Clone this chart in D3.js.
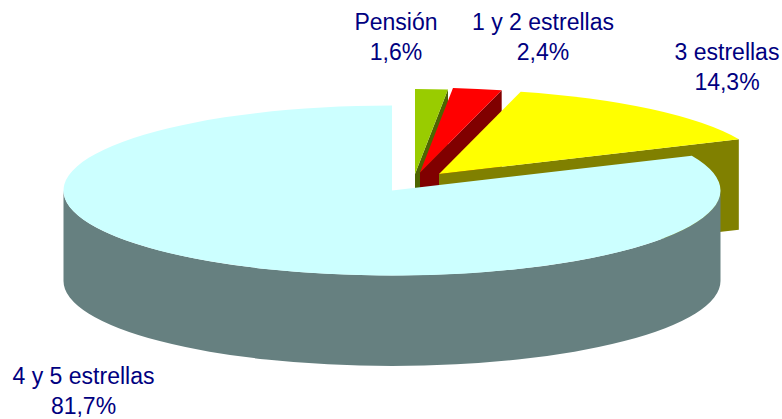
<!DOCTYPE html>
<html>
<head>
<meta charset="utf-8">
<script src="https://cdn.jsdelivr.net/npm/d3@7"></script>
<style>
html,body{margin:0;padding:0;background:#fff;overflow:hidden}
svg{display:block}
text{font-family:"Liberation Sans",Arial,sans-serif;font-size:23px;fill:#000080;text-anchor:middle}
</style>
</head>
<body>
<svg id="c" width="782" height="419"></svg>
<script>
const categories = ["Pensión", "1 y 2 estrellas", "3 estrellas", "4 y 5 estrellas"];
const shares = [1.6, 2.4, 14.3, 81.7];
const shareLabels = ["1,6%", "2,4%", "14,3%", "81,7%"];
const topColors = ["#99cc00", "#ff0000", "#ffff00", "#ccffff"];
const sideColors = ["#4d6600", "#800000", "#808000", "#668080"];

const rx = 328.5, ry = 85, depth = 90.5, cx = 392, cy = 190.5;
const explodeX = [23, 28, 47, 0];
const explodeY = [-16.5, -18, -16.5, 0];
const labelX = [396, 543, 727, 83.5];
const labelY = [30, 30, 60, 384];
const lineGap = 30;

const svg = d3.select("#c");
const pie = d3.pie().sort(null).startAngle(0).endAngle(2 * Math.PI);
const arcs = pie(shares);
const arc = d3.arc().innerRadius(0).outerRadius(rx);
const px = a => rx * Math.sin(a), py = a => -ry * Math.cos(a);

arcs.forEach((d, i) => {
  const g = svg.append("g").attr("transform", `translate(${cx + explodeX[i]},${cy + explodeY[i]})`);
  if (i < 3) {
    // radial wall at the clockwise end of the exploded wedge
    const x = px(d.endAngle), y = py(d.endAngle);
    g.append("path")
      .attr("d", `M0,0L${x},${y}L${x},${y + depth}L0,${depth}Z`)
      .attr("fill", sideColors[i]);
  } else {
    // outer rim: visible front half of the ellipse
    g.append("path")
      .attr("d", `M${rx},0A${rx},${ry} 0 0 1 ${-rx},0L${-rx},${depth}A${rx},${ry} 0 0 0 ${rx},${depth}Z`)
      .attr("fill", sideColors[i]);
  }
  g.append("path")
    .attr("transform", `scale(1,${ry / rx})`)
    .attr("d", arc(d))
    .attr("fill", topColors[i]);
});

categories.forEach((c, i) => {
  svg.append("text").attr("x", labelX[i]).attr("y", labelY[i]).text(c);
  svg.append("text").attr("x", labelX[i]).attr("y", labelY[i] + lineGap).text(shareLabels[i]);
});
</script>
</body>
</html>
